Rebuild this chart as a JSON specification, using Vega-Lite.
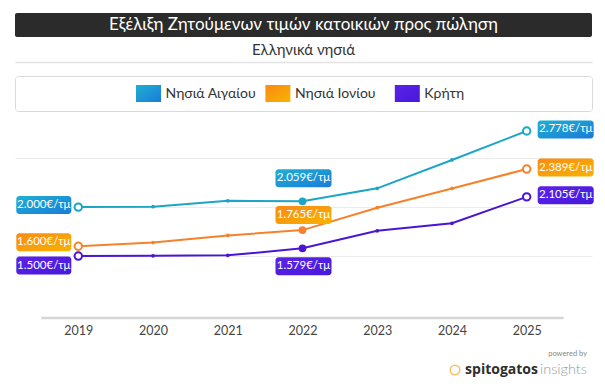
{
  "$schema": "https://vega.github.io/schema/vega-lite/v6.json",
  "background": "white",
  "padding": {"left": 14, "top": 13, "right": 12, "bottom": 4},
  "spacing": 0,
  "config": {"font": "Lato", "view": {"stroke": null}},
  "datasets": {
    "prices": [
      {"year": 2019, "series": "Νησιά Αιγαίου", "value": 2000},
      {"year": 2020, "series": "Νησιά Αιγαίου", "value": 2005},
      {"year": 2021, "series": "Νησιά Αιγαίου", "value": 2064},
      {"year": 2022, "series": "Νησιά Αιγαίου", "value": 2059},
      {"year": 2023, "series": "Νησιά Αιγαίου", "value": 2192},
      {"year": 2024, "series": "Νησιά Αιγαίου", "value": 2482},
      {"year": 2025, "series": "Νησιά Αιγαίου", "value": 2778},
      {"year": 2019, "series": "Νησιά Ιονίου", "value": 1600},
      {"year": 2020, "series": "Νησιά Ιονίου", "value": 1638},
      {"year": 2021, "series": "Νησιά Ιονίου", "value": 1711},
      {"year": 2022, "series": "Νησιά Ιονίου", "value": 1765},
      {"year": 2023, "series": "Νησιά Ιονίου", "value": 1994},
      {"year": 2024, "series": "Νησιά Ιονίου", "value": 2191},
      {"year": 2025, "series": "Νησιά Ιονίου", "value": 2389},
      {"year": 2019, "series": "Κρήτη", "value": 1500},
      {"year": 2020, "series": "Κρήτη", "value": 1503},
      {"year": 2021, "series": "Κρήτη", "value": 1507},
      {"year": 2022, "series": "Κρήτη", "value": 1579},
      {"year": 2023, "series": "Κρήτη", "value": 1758},
      {"year": 2024, "series": "Κρήτη", "value": 1835},
      {"year": 2025, "series": "Κρήτη", "value": 2105}
    ],
    "series": [
      {"series": "Νησιά Αιγαίου"},
      {"series": "Νησιά Ιονίου"},
      {"series": "Κρήτη"}
    ]
  },
  "vconcat": [
    {
      "width": 577,
      "height": 24,
      "view": {"fill": "#2b2b2b", "stroke": null, "cornerRadius": 2},
      "data": {"values": [{"t": "Εξέλιξη Ζητούμενων τιμών κατοικιών προς πώληση"}]},
      "mark": {"type": "text", "color": "#ffffff", "fontSize": 17, "baseline": "middle", "align": "center"},
      "encoding": {"text": {"field": "t"}}
    },
    {
      "width": 577,
      "height": 24,
      "data": {"values": [{"t": "Ελληνικά νησιά"}]},
      "mark": {"type": "text", "color": "#333333", "fontSize": 15, "baseline": "middle", "align": "center", "dy": 1},
      "encoding": {"text": {"field": "t"}}
    },
    {
      "width": 577,
      "height": 35,
      "view": {"stroke": "#d9d9d9", "strokeWidth": 1, "cornerRadius": 3},
      "data": {"name": "series"},
      "resolve": {"scale": {"x": "independent"}, "axis": {"x": "independent"}},
      "layer": [
        {
          "mark": {"type": "rule", "opacity": 0},
          "encoding": {
            "x": {"datum": 0.5, "type": "quantitative", "scale": {"domain": [0, 1]},
              "axis": {"orient": "top", "offset": 14, "labels": false, "ticks": false, "grid": false, "title": null, "domainColor": "#e3e3e3", "domainWidth": 1.5}}
          }
        },
        {
          "encoding": {
            "x": {"field": "series", "type": "nominal", "sort": null, "scale": {"type": "point", "range": [133.5, 392.3], "padding": 0}, "axis": null}
          },
          "layer": [
            {
              "transform": [{"filter": "datum.series == 'Νησιά Αιγαίου'"}],
              "mark": {"type": "point", "shape": "M-1.47,-1H1.47V1H-1.47Z", "filled": true, "size": 289, "opacity": 1,
                "fill": {"gradient": "linear", "x1": 0, "y1": 0, "x2": 1, "y2": 1, "stops": [{"offset": 0, "color": "#1fb0d2"}, {"offset": 1, "color": "#1a7bd8"}]}}
            },
            {
              "transform": [{"filter": "datum.series == 'Νησιά Ιονίου'"}],
              "mark": {"type": "point", "shape": "M-1.47,-1H1.47V1H-1.47Z", "filled": true, "size": 289, "opacity": 1,
                "fill": {"gradient": "linear", "x1": 0, "y1": 0, "x2": 1, "y2": 1, "stops": [{"offset": 0, "color": "#fa8a14"}, {"offset": 1, "color": "#f7b300"}]}}
            },
            {
              "transform": [{"filter": "datum.series == 'Κρήτη'"}],
              "mark": {"type": "point", "shape": "M-1.47,-1H1.47V1H-1.47Z", "filled": true, "size": 289, "opacity": 1,
                "fill": {"gradient": "linear", "x1": 0, "y1": 0, "x2": 1, "y2": 1, "stops": [{"offset": 0, "color": "#5d22e8"}, {"offset": 1, "color": "#4519dc"}]}}
            },
            {
              "mark": {"type": "text", "align": "left", "baseline": "middle", "dx": 17, "fontSize": 14, "color": "#333333"},
              "encoding": {"text": {"field": "series"}}
            }
          ]
        }
      ]
    },
    {
      "width": 577,
      "height": 206,
      "data": {"name": "prices"},
      "transform": [
        {"calculate": "replace(format(datum.value, ','), ',', '.') + '€/τμ'", "as": "label"}
      ],
      "encoding": {
        "x": {
          "field": "year", "type": "quantitative",
          "scale": {"domain": [2018.153, 2025.874], "nice": false, "zero": false},
          "axis": {"values": [2019, 2020, 2021, 2022, 2023, 2024, 2025], "format": "d", "grid": false, "ticks": false, "domain": false, "labelColor": "#444444", "labelFontSize": 12.5, "labelPadding": 6, "labelFlush": false, "title": null}
        },
        "y": {
          "field": "value", "type": "quantitative",
          "scale": {"domain": [867, 2972], "nice": false, "zero": false},
          "axis": {"values": [1500, 2000, 2500], "labels": false, "domain": false, "ticks": false, "grid": true, "gridColor": "#ececec", "gridWidth": 1, "title": null}
        }
      },
      "layer": [
        {
          "mark": {"type": "rule", "color": "#d6d6d6", "strokeWidth": 2.5, "xOffset": -37, "x2Offset": 37},
          "encoding": {
            "x": {"aggregate": "min", "field": "year"},
            "x2": {"aggregate": "max", "field": "year"},
            "y": {"value": "height"}
          }
        },
        {
          "mark": {"type": "line", "strokeWidth": 2},
          "encoding": {"color": {"field": "series", "type": "nominal", "scale": {"domain": ["Νησιά Αιγαίου", "Νησιά Ιονίου", "Κρήτη"], "range": ["#1aa6c4", "#f5822b", "#4a16d3"]}, "legend": null}}
        },
        {
          "mark": {"type": "circle", "size": 14, "opacity": 1},
          "encoding": {"color": {"field": "series", "type": "nominal", "legend": null}}
        },
        {
          "transform": [{"filter": "datum.year == 2019 || datum.year == 2025"}],
          "mark": {"type": "point", "filled": false, "fill": "#ffffff", "size": 55, "strokeWidth": 2, "opacity": 1},
          "encoding": {"color": {"field": "series", "type": "nominal", "legend": null}}
        },
        {
          "transform": [{"filter": "datum.year == 2022"}],
          "mark": {"type": "circle", "size": 60, "opacity": 1},
          "encoding": {"color": {"field": "series", "type": "nominal", "legend": null}}
        },
        {
          "transform": [{"filter": "datum.year == 2019 && datum.series == 'Νησιά Αιγαίου'"}],
          "mark": {"type": "rect", "cornerRadius": 3, "xOffset": -62, "x2Offset": -7, "yOffset": -11, "y2Offset": 7,
            "fill": {"gradient": "linear", "x1": 0, "y1": 0, "x2": 1, "y2": 1, "stops": [{"offset": 0, "color": "#1fb0d2"}, {"offset": 1, "color": "#1a7bd8"}]}},
          "encoding": {"x2": {"field": "year"}, "y2": {"field": "value"}}
        },
        {
          "transform": [{"filter": "datum.year == 2019 && datum.series == 'Νησιά Ιονίου'"}],
          "mark": {"type": "rect", "cornerRadius": 3, "xOffset": -62, "x2Offset": -7, "yOffset": -13, "y2Offset": 5,
            "fill": {"gradient": "linear", "x1": 0, "y1": 0, "x2": 1, "y2": 1, "stops": [{"offset": 0, "color": "#fa8a14"}, {"offset": 1, "color": "#f7b300"}]}},
          "encoding": {"x2": {"field": "year"}, "y2": {"field": "value"}}
        },
        {
          "transform": [{"filter": "datum.year == 2019 && datum.series == 'Κρήτη'"}],
          "mark": {"type": "rect", "cornerRadius": 3, "xOffset": -62, "x2Offset": -7, "yOffset": 0.5, "y2Offset": 18.5,
            "fill": {"gradient": "linear", "x1": 0, "y1": 0, "x2": 1, "y2": 1, "stops": [{"offset": 0, "color": "#5d22e8"}, {"offset": 1, "color": "#4519dc"}]}},
          "encoding": {"x2": {"field": "year"}, "y2": {"field": "value"}}
        },
        {
          "transform": [{"filter": "datum.year == 2025 && datum.series == 'Νησιά Αιγαίου'"}],
          "mark": {"type": "rect", "cornerRadius": 3, "xOffset": 11, "x2Offset": 67, "yOffset": -10.5, "y2Offset": 7.5,
            "fill": {"gradient": "linear", "x1": 0, "y1": 0, "x2": 1, "y2": 1, "stops": [{"offset": 0, "color": "#1fb0d2"}, {"offset": 1, "color": "#1a7bd8"}]}},
          "encoding": {"x2": {"field": "year"}, "y2": {"field": "value"}}
        },
        {
          "transform": [{"filter": "datum.year == 2025 && datum.series == 'Νησιά Ιονίου'"}],
          "mark": {"type": "rect", "cornerRadius": 3, "xOffset": 11, "x2Offset": 67, "yOffset": -10.5, "y2Offset": 7.5,
            "fill": {"gradient": "linear", "x1": 0, "y1": 0, "x2": 1, "y2": 1, "stops": [{"offset": 0, "color": "#fa8a14"}, {"offset": 1, "color": "#f7b300"}]}},
          "encoding": {"x2": {"field": "year"}, "y2": {"field": "value"}}
        },
        {
          "transform": [{"filter": "datum.year == 2025 && datum.series == 'Κρήτη'"}],
          "mark": {"type": "rect", "cornerRadius": 3, "xOffset": 11, "x2Offset": 67, "yOffset": -10.5, "y2Offset": 7.5,
            "fill": {"gradient": "linear", "x1": 0, "y1": 0, "x2": 1, "y2": 1, "stops": [{"offset": 0, "color": "#5d22e8"}, {"offset": 1, "color": "#4519dc"}]}},
          "encoding": {"x2": {"field": "year"}, "y2": {"field": "value"}}
        },
        {
          "transform": [{"filter": "datum.year == 2022 && datum.series == 'Νησιά Αιγαίου'"}],
          "mark": {"type": "rect", "cornerRadius": 3, "xOffset": -27, "x2Offset": 29, "yOffset": -32, "y2Offset": -14,
            "fill": {"gradient": "linear", "x1": 0, "y1": 0, "x2": 1, "y2": 1, "stops": [{"offset": 0, "color": "#1fb0d2"}, {"offset": 1, "color": "#1a7bd8"}]}},
          "encoding": {"x2": {"field": "year"}, "y2": {"field": "value"}}
        },
        {
          "transform": [{"filter": "datum.year == 2022 && datum.series == 'Νησιά Ιονίου'"}],
          "mark": {"type": "rect", "cornerRadius": 3, "xOffset": -27, "x2Offset": 29, "yOffset": -24, "y2Offset": -6,
            "fill": {"gradient": "linear", "x1": 0, "y1": 0, "x2": 1, "y2": 1, "stops": [{"offset": 0, "color": "#fa8a14"}, {"offset": 1, "color": "#f7b300"}]}},
          "encoding": {"x2": {"field": "year"}, "y2": {"field": "value"}}
        },
        {
          "transform": [{"filter": "datum.year == 2022 && datum.series == 'Κρήτη'"}],
          "mark": {"type": "rect", "cornerRadius": 3, "xOffset": -27, "x2Offset": 29, "yOffset": 9, "y2Offset": 27,
            "fill": {"gradient": "linear", "x1": 0, "y1": 0, "x2": 1, "y2": 1, "stops": [{"offset": 0, "color": "#5d22e8"}, {"offset": 1, "color": "#4519dc"}]}},
          "encoding": {"x2": {"field": "year"}, "y2": {"field": "value"}}
        },
        {
          "transform": [{"filter": "datum.year == 2019 && datum.series == 'Νησιά Αιγαίου'"}],
          "mark": {"type": "text", "color": "#ffffff", "fontSize": 11.5, "baseline": "middle", "align": "center", "dx": -34.5, "dy": -2},
          "encoding": {"text": {"field": "label"}}
        },
        {
          "transform": [{"filter": "datum.year == 2019 && datum.series == 'Νησιά Ιονίου'"}],
          "mark": {"type": "text", "color": "#ffffff", "fontSize": 11.5, "baseline": "middle", "align": "center", "dx": -34.5, "dy": -4},
          "encoding": {"text": {"field": "label"}}
        },
        {
          "transform": [{"filter": "datum.year == 2019 && datum.series == 'Κρήτη'"}],
          "mark": {"type": "text", "color": "#ffffff", "fontSize": 11.5, "baseline": "middle", "align": "center", "dx": -34.5, "dy": 9.5},
          "encoding": {"text": {"field": "label"}}
        },
        {
          "transform": [{"filter": "datum.year == 2025"}],
          "mark": {"type": "text", "color": "#ffffff", "fontSize": 11.5, "baseline": "middle", "align": "center", "dx": 39, "dy": -1.5},
          "encoding": {"text": {"field": "label"}}
        },
        {
          "transform": [{"filter": "datum.year == 2022 && datum.series == 'Νησιά Αιγαίου'"}],
          "mark": {"type": "text", "color": "#ffffff", "fontSize": 11.5, "baseline": "middle", "align": "center", "dx": 1, "dy": -23},
          "encoding": {"text": {"field": "label"}}
        },
        {
          "transform": [{"filter": "datum.year == 2022 && datum.series == 'Νησιά Ιονίου'"}],
          "mark": {"type": "text", "color": "#ffffff", "fontSize": 11.5, "baseline": "middle", "align": "center", "dx": 1, "dy": -15},
          "encoding": {"text": {"field": "label"}}
        },
        {
          "transform": [{"filter": "datum.year == 2022 && datum.series == 'Κρήτη'"}],
          "mark": {"type": "text", "color": "#ffffff", "fontSize": 11.5, "baseline": "middle", "align": "center", "dx": 1, "dy": 18},
          "encoding": {"text": {"field": "label"}}
        }
      ]
    },
    {
      "width": 577,
      "height": 40,
      "data": {"values": [{"a": "powered by", "b": "spitogatos", "c": "insights"}]},
      "encoding": {
        "x": {"datum": 1, "type": "quantitative", "scale": {"domain": [0, 1]}, "axis": null}
      },
      "layer": [
        {
          "mark": {"type": "text", "align": "right", "baseline": "middle", "fontSize": 7.5, "color": "#888888", "dx": -5, "dy": -3},
          "encoding": {"text": {"field": "a"}}
        },
        {
          "mark": {"type": "text", "align": "right", "baseline": "middle", "fontSize": 14.5, "fontWeight": 300, "color": "#9a9a9a", "dx": -5, "dy": 13},
          "encoding": {"text": {"field": "c"}}
        },
        {
          "mark": {"type": "text", "align": "right", "baseline": "middle", "font": "Open Sans", "fontSize": 14, "fontWeight": "bold", "color": "#2e2e2e", "dx": -54, "dy": 13},
          "encoding": {"text": {"field": "b"}}
        },
        {
          "mark": {"type": "point", "shape": "circle", "filled": false, "color": "#f5a623", "size": 90, "strokeWidth": 1.5, "xOffset": -137, "yOffset": 13},
          "encoding": {}
        }
      ]
    }
  ]
}
